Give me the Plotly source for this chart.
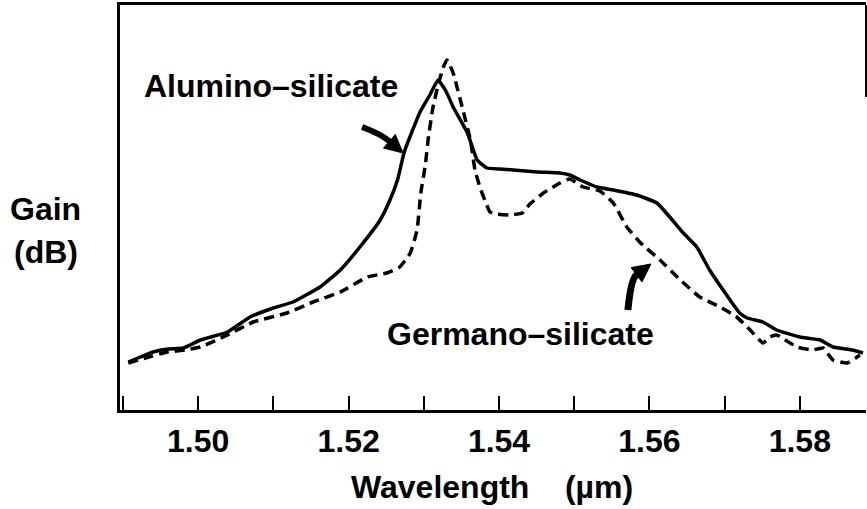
import math
import plotly.graph_objects as go

# Wavelength (um) and gain (relative dB) for the two fibre compositions
alumino_wl = [1.4907, 1.4923, 1.4940, 1.4960, 1.4980, 1.5003, 1.5039, 1.5069,
              1.5100, 1.5126, 1.5162, 1.5189, 1.5215, 1.5242, 1.5255, 1.5265,
              1.5274, 1.5295, 1.5308, 1.5319, 1.5330, 1.5339, 1.5358, 1.5371,
              1.5384, 1.5401, 1.5419, 1.5451, 1.5481, 1.5494, 1.5508, 1.5530,
              1.5552, 1.5583, 1.5610, 1.5627, 1.5645, 1.5663, 1.5680, 1.5698,
              1.5720, 1.5730, 1.5751, 1.5769, 1.5800, 1.5827, 1.5844, 1.5870,
              1.5884]
alumino_gain = [4.8, 5.3, 5.8, 6.1, 6.2, 7.0, 7.8, 9.3,
                10.2, 10.8, 12.3, 14.0, 16.3, 19.0, 21.0, 23.0,
                25.8, 29.8, 31.5, 33.0, 31.8, 30.3, 27.7, 25.0,
                24.2, 24.1, 24.0, 23.8, 23.7, 23.5, 23.0, 22.3,
                22.0, 21.5, 20.7, 19.3, 17.7, 16.3, 14.0, 12.0,
                9.7, 9.2, 8.8, 8.0, 7.3, 7.0, 6.3, 6.0,
                5.7]

germano_wl = [1.4907, 1.4930, 1.4959, 1.4983, 1.5003, 1.5039, 1.5073, 1.5118,
              1.5153, 1.5189, 1.5225, 1.5251, 1.5268, 1.5282, 1.5291, 1.5296,
              1.5302, 1.5306, 1.5312, 1.5319, 1.5326, 1.5331, 1.5339, 1.5352,
              1.5362, 1.5368, 1.5375, 1.5381, 1.5388, 1.5397, 1.5415, 1.5431,
              1.5441, 1.5459, 1.5481, 1.5494, 1.5512, 1.5534, 1.5552, 1.5570,
              1.5587, 1.5614, 1.5641, 1.5667, 1.5694, 1.5716, 1.5734, 1.5751,
              1.5760, 1.5769, 1.5796, 1.5817, 1.5831, 1.5844, 1.5863, 1.5880]
germano_gain = [4.7, 5.2, 5.8, 6.0, 6.3, 7.5, 8.8, 9.7,
                10.8, 11.8, 13.3, 13.7, 14.3, 15.7, 18.0, 21.7,
                24.5, 27.2, 30.2, 32.5, 34.3, 35.0, 33.7, 30.0,
                27.0, 24.0, 22.2, 21.0, 19.8, 19.6, 19.5, 19.7,
                20.6, 21.7, 22.7, 23.1, 22.3, 21.9, 20.7, 18.3,
                16.8, 15.0, 13.0, 11.3, 10.3, 9.3, 8.0, 6.7,
                7.3, 7.5, 6.3, 6.0, 6.2, 5.0, 4.7, 5.5]

tick_vals = [1.50, 1.52, 1.54, 1.56, 1.58]
tick_text = ["1.50", "1.52", "1.54", "1.56", "1.58"]

X_RANGE = [1.4896, 1.5888]
Y_RANGE = [0, 40.5]
W, H = 867, 509
MARGIN = dict(l=120, r=1, t=5, b=99)
PLOT_W = W - MARGIN["l"] - MARGIN["r"]
PLOT_H = H - MARGIN["t"] - MARGIN["b"]

FONT = "Liberation Sans"
INK = "black"


def curved_arrow(tail, ctrl, tip, head_len=18, head_half=9, width=6):
    """Quadratic shaft plus a filled triangular head, in data coordinates."""
    sx = PLOT_W / (X_RANGE[1] - X_RANGE[0])
    sy = PLOT_H / (Y_RANGE[1] - Y_RANGE[0])

    def to_px(p):
        return (p[0] * sx, -p[1] * sy)

    def to_data(q):
        return (q[0] / sx, -q[1] / sy)

    t, c, h = to_px(tail), to_px(ctrl), to_px(tip)
    dx, dy = h[0] - c[0], h[1] - c[1]
    n = math.hypot(dx, dy)
    ux, uy = dx / n, dy / n
    base = (h[0] - ux * head_len, h[1] - uy * head_len)
    left = (base[0] - uy * head_half, base[1] + ux * head_half)
    right = (base[0] + uy * head_half, base[1] - ux * head_half)

    def fmt(q):
        d = to_data(q)
        return f"{d[0]:.6f},{d[1]:.4f}"

    shaft = f"M {fmt(t)} Q {fmt(c)} {fmt(base)}"
    head = f"M {fmt(h)} L {fmt(left)} L {fmt(right)} Z"
    return [
        dict(type="path", path=shaft, xref="x", yref="y",
             line=dict(color=INK, width=width)),
        dict(type="path", path=head, xref="x", yref="y",
             fillcolor=INK, line=dict(color=INK, width=1)),
    ]


fig = go.Figure()
fig.add_trace(go.Scatter(
    x=alumino_wl, y=alumino_gain, mode="lines", name="Alumino-silicate",
    line=dict(color=INK, width=3.5, shape="spline", smoothing=0.4),
))
fig.add_trace(go.Scatter(
    x=germano_wl, y=germano_gain, mode="lines", name="Germano-silicate",
    line=dict(color=INK, width=3.5, dash="10px,6px", shape="spline", smoothing=0.4),
))

shapes = []
shapes += curved_arrow((1.52179, 28.3), (1.52430, 27.6), (1.52724, 25.7))
shapes += curved_arrow((1.55714, 10.0), (1.55754, 13.1), (1.56020, 14.6), width=7)
# short right-hand frame edge
shapes.append(dict(type="line", xref="paper", yref="paper",
                   x0=1, x1=1, y0=0.773, y1=1,
                   line=dict(color=INK, width=2)))

txt = dict(family=FONT, size=32, color=INK, weight="bold")
annotations = [
    dict(x=1.5097, y=32.4, xref="x", yref="y", text="Alumino–silicate",
         showarrow=False, font=txt, xanchor="center", yanchor="middle"),
    dict(x=1.5429, y=7.6, xref="x", yref="y", text="Germano–silicate",
         showarrow=False, font=txt, xanchor="center", yanchor="middle"),
    dict(x=-0.0992, y=0.4963, xref="paper", yref="paper", text="Gain",
         showarrow=False, font=txt, xanchor="center", yanchor="middle"),
    dict(x=-0.0992, y=0.390, xref="paper", yref="paper", text="(dB)",
         showarrow=False, font=txt, xanchor="center", yanchor="middle"),
    dict(x=0.4987, y=-0.190, xref="paper", yref="paper",
         text="Wavelength\u00a0\u00a0\u00a0\u00a0(µm)",
         showarrow=False, font=txt, xanchor="center", yanchor="middle"),
]

fig.update_layout(
    width=W, height=H, margin=MARGIN,
    paper_bgcolor="white", plot_bgcolor="white",
    showlegend=False, shapes=shapes, annotations=annotations,
)
fig.update_xaxes(
    range=X_RANGE, showgrid=False, zeroline=False,
    showline=True, linecolor=INK, linewidth=3, mirror=True,
    tickvals=tick_vals, ticktext=tick_text,
    ticks="inside", ticklen=14, tickwidth=2, tickcolor=INK,
    minor=dict(ticks="inside", ticklen=14, tickwidth=2, tickcolor=INK,
               dtick=0.01, tick0=1.50, showgrid=False),
    tickfont=dict(family=FONT, size=32, color=INK, weight="bold"),
    ticklabelstandoff=1,
)
fig.update_yaxes(
    range=Y_RANGE, showgrid=False, zeroline=False,
    showline=True, linecolor=INK, linewidth=2.5,
    showticklabels=False, ticks="",
)

fig.write_html("out.html")
